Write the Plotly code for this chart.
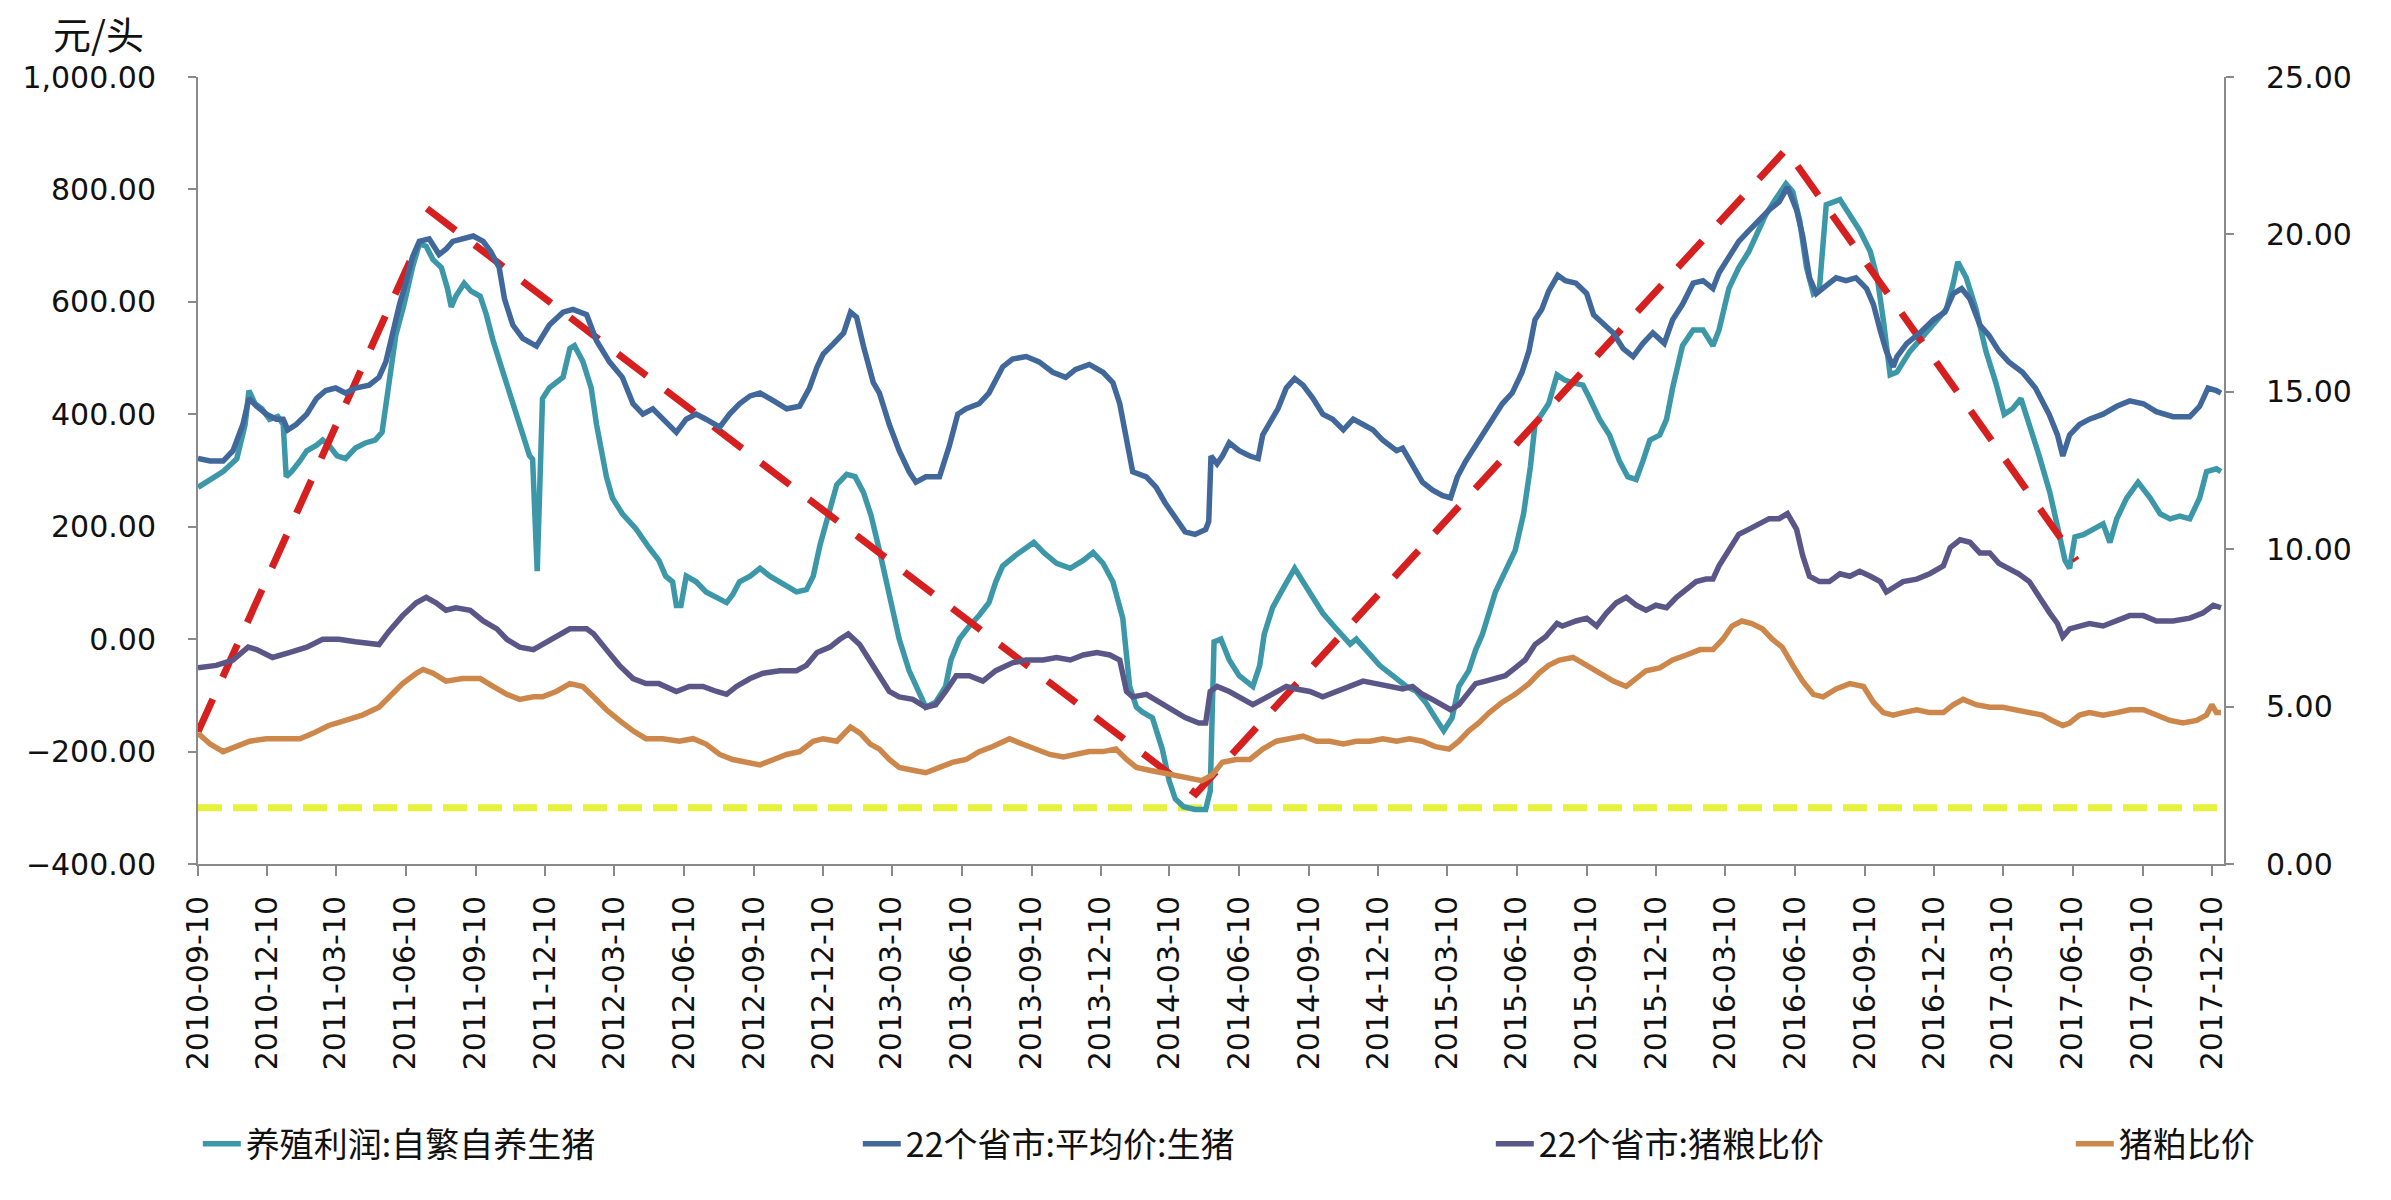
import plotly.graph_objects as go

# ---------------- data ----------------
profit_dates = ["2010-09-10","2010-09-26","2010-10-13","2010-10-31","2010-11-04","2010-11-11","2010-11-16","2010-11-24","2010-12-03","2010-12-13","2010-12-24","2010-12-31","2011-01-04","2011-01-11","2011-01-22","2011-01-31","2011-02-13","2011-02-21","2011-03-01","2011-03-12","2011-03-23","2011-04-05","2011-04-18","2011-05-01","2011-05-10","2011-05-19","2011-05-28","2011-06-08","2011-06-19","2011-06-28","2011-07-07","2011-07-16","2011-07-27","2011-08-04","2011-08-09","2011-08-15","2011-08-26","2011-09-04","2011-09-16","2011-09-24","2011-10-03","2011-10-16","2011-10-29","2011-11-11","2011-11-20","2011-11-24","2011-11-30","2011-12-07","2011-12-16","2012-01-03","2012-01-12","2012-01-18","2012-01-29","2012-02-09","2012-02-16","2012-02-29","2012-03-08","2012-03-21","2012-04-08","2012-04-25","2012-05-08","2012-05-17","2012-05-26","2012-05-31","2012-06-06","2012-06-13","2012-06-26","2012-07-09","2012-07-23","2012-08-05","2012-08-13","2012-08-22","2012-09-05","2012-09-18","2012-10-01","2012-10-19","2012-11-05","2012-11-18","2012-11-27","2012-12-06","2012-12-15","2012-12-28","2013-01-10","2013-01-21","2013-02-01","2013-02-11","2013-02-22","2013-03-07","2013-03-20","2013-04-02","2013-04-15","2013-04-24","2013-05-07","2013-05-20","2013-05-27","2013-06-07","2013-06-20","2013-07-03","2013-07-16","2013-07-25","2013-08-03","2013-08-20","2013-09-13","2013-09-26","2013-10-13","2013-10-31","2013-11-17","2013-11-30","2013-12-13","2013-12-26","2014-01-08","2014-01-17","2014-01-26","2014-02-03","2014-02-16","2014-03-01","2014-03-10","2014-03-18","2014-03-29","2014-04-13","2014-04-27","2014-05-03","2014-05-08","2014-05-17","2014-05-28","2014-06-10","2014-06-28","2014-07-07","2014-07-13","2014-07-24","2014-08-08","2014-08-22","2014-09-02","2014-09-15","2014-09-28","2014-10-16","2014-11-03","2014-11-11","2014-11-24","2014-12-12","2014-12-29","2015-01-16","2015-01-29","2015-02-10","2015-02-23","2015-03-06","2015-03-17","2015-03-26","2015-04-08","2015-04-17","2015-04-26","2015-05-05","2015-05-13","2015-05-26","2015-06-08","2015-06-19","2015-06-28","2015-07-04","2015-07-13","2015-07-22","2015-08-02","2015-08-12","2015-08-23","2015-09-05","2015-09-14","2015-09-27","2015-10-10","2015-10-23","2015-11-03","2015-11-14","2015-11-23","2015-12-02","2015-12-15","2015-12-24","2016-01-01","2016-01-14","2016-01-28","2016-02-10","2016-02-23","2016-03-02","2016-03-15","2016-03-28","2016-04-10","2016-04-19","2016-05-02","2016-05-15","2016-05-29","2016-06-07","2016-06-16","2016-06-25","2016-07-04","2016-07-12","2016-07-21","2016-08-08","2016-08-21","2016-09-03","2016-09-17","2016-09-26","2016-10-04","2016-10-13","2016-10-22","2016-11-08","2016-11-26","2016-12-13","2016-12-26","2017-01-04","2017-01-10","2017-01-21","2017-02-03","2017-02-16","2017-03-01","2017-03-12","2017-03-23","2017-04-03","2017-04-14","2017-04-27","2017-05-11","2017-05-22","2017-05-31","2017-06-06","2017-06-13","2017-06-24","2017-07-07","2017-07-20","2017-07-29","2017-08-07","2017-08-20","2017-09-04","2017-09-20","2017-10-03","2017-10-16","2017-10-29","2017-11-11","2017-11-24","2017-12-03","2017-12-16","2017-12-22"]
profit_values = [270,284,298,321,340,382,442,419,410,391,396,382,289,298,317,335,345,354,345,326,321,340,349,354,368,456,540,596,661,703,699,675,661,624,591,610,633,619,610,578,531,475,419,363,326,320,121,428,447,466,517,522,494,447,382,289,251,223,196,163,140,112,102,60,60,112,102,84,74,65,79,102,112,126,112,98,84,88,112,168,214,275,293,289,261,220,158,74,0,-56,-93,-121,-112,-84,-37,0,23,42,65,102,130,149,172,154,135,126,140,154,135,102,37,-84,-121,-130,-140,-196,-252,-284,-298,-303,-303,-270,-5,0,-37,-65,-84,-47,9,56,93,126,102,74,46,18,-9,0,-19,-47,-65,-84,-93,-112,-140,-163,-140,-84,-56,-19,9,46,84,121,158,223,307,382,400,419,470,461,456,452,428,391,363,317,289,284,317,354,363,391,447,522,550,550,522,550,624,661,689,717,754,782,810,796,745,661,615,624,773,782,754,727,689,643,568,470,475,512,540,568,587,633,671,643,587,512,456,400,410,428,382,326,261,196,140,126,182,186,196,205,172,214,251,279,251,223,214,219,214,251,298,303,298]

hog_dates = ["2010-09-10","2010-09-26","2010-10-13","2010-10-26","2010-11-08","2010-11-16","2010-11-26","2010-12-09","2010-12-22","2010-12-31","2011-01-06","2011-01-17","2011-01-31","2011-02-13","2011-02-25","2011-03-10","2011-03-23","2011-04-05","2011-04-23","2011-05-06","2011-05-15","2011-05-24","2011-06-02","2011-06-10","2011-06-19","2011-06-28","2011-07-11","2011-07-24","2011-08-02","2011-08-11","2011-08-24","2011-09-07","2011-09-20","2011-09-30","2011-10-11","2011-10-18","2011-10-29","2011-11-11","2011-11-29","2011-12-16","2012-01-03","2012-01-16","2012-02-03","2012-02-16","2012-03-04","2012-03-21","2012-04-04","2012-04-17","2012-04-30","2012-05-13","2012-05-31","2012-06-13","2012-06-26","2012-07-09","2012-07-27","2012-08-09","2012-08-22","2012-09-05","2012-09-18","2012-10-06","2012-10-23","2012-11-09","2012-11-22","2012-12-02","2012-12-10","2012-12-24","2013-01-06","2013-01-15","2013-01-23","2013-02-01","2013-02-14","2013-02-22","2013-03-07","2013-03-20","2013-04-02","2013-04-11","2013-04-24","2013-05-12","2013-05-25","2013-06-05","2013-06-16","2013-07-03","2013-07-16","2013-08-03","2013-08-16","2013-09-03","2013-09-20","2013-10-08","2013-10-25","2013-11-07","2013-11-25","2013-12-13","2013-12-26","2014-01-04","2014-01-15","2014-01-21","2014-02-08","2014-02-21","2014-03-05","2014-03-18","2014-03-31","2014-04-13","2014-04-27","2014-05-01","2014-05-04","2014-05-12","2014-05-19","2014-05-28","2014-06-10","2014-06-24","2014-07-05","2014-07-11","2014-07-20","2014-07-31","2014-08-11","2014-08-22","2014-09-02","2014-09-15","2014-09-28","2014-10-11","2014-10-25","2014-11-07","2014-11-20","2014-12-03","2014-12-16","2015-01-03","2015-01-11","2015-01-24","2015-02-06","2015-02-19","2015-03-04","2015-03-15","2015-03-24","2015-04-04","2015-04-17","2015-04-30","2015-05-13","2015-05-22","2015-06-04","2015-06-17","2015-06-26","2015-07-04","2015-07-13","2015-07-22","2015-08-03","2015-08-13","2015-08-27","2015-09-10","2015-09-19","2015-10-01","2015-10-15","2015-10-28","2015-11-10","2015-11-23","2015-12-06","2015-12-21","2016-01-01","2016-01-14","2016-01-28","2016-02-10","2016-02-23","2016-03-02","2016-03-15","2016-03-28","2016-04-10","2016-04-23","2016-05-07","2016-05-20","2016-05-31","2016-06-12","2016-06-20","2016-06-29","2016-07-08","2016-07-21","2016-08-03","2016-08-16","2016-08-29","2016-09-12","2016-09-21","2016-09-30","2016-10-08","2016-10-17","2016-10-22","2016-11-04","2016-11-21","2016-12-09","2016-12-24","2017-01-04","2017-01-15","2017-01-26","2017-02-08","2017-02-20","2017-03-05","2017-03-18","2017-04-05","2017-04-22","2017-05-10","2017-05-21","2017-05-28","2017-06-06","2017-06-19","2017-07-02","2017-07-20","2017-08-07","2017-08-24","2017-09-11","2017-09-28","2017-10-20","2017-11-11","2017-11-24","2017-12-05","2017-12-16","2017-12-22"]
hog_values = [12.88,12.80,12.80,13.13,13.96,14.79,14.54,14.29,14.13,14.13,13.79,13.96,14.29,14.79,15.04,15.12,14.96,15.12,15.21,15.46,15.95,16.95,17.78,18.45,19.28,19.78,19.86,19.36,19.53,19.78,19.86,19.95,19.78,19.45,18.95,17.95,17.12,16.70,16.45,17.12,17.53,17.62,17.45,16.62,15.95,15.46,14.62,14.29,14.46,14.13,13.71,14.13,14.29,14.13,13.88,14.29,14.62,14.87,14.96,14.71,14.46,14.54,15.12,15.79,16.20,16.54,16.87,17.53,17.37,16.45,15.29,14.96,13.96,13.13,12.46,12.13,12.30,12.30,13.29,14.29,14.46,14.62,14.96,15.79,16.04,16.12,15.95,15.62,15.46,15.71,15.87,15.62,15.29,14.62,13.29,12.46,12.30,11.96,11.46,10.97,10.55,10.47,10.63,10.88,12.96,12.71,12.96,13.38,13.13,12.96,12.88,13.63,14.04,14.46,15.12,15.42,15.21,14.79,14.29,14.13,13.79,14.13,13.96,13.79,13.46,13.13,13.21,12.63,12.13,11.88,11.71,11.63,12.30,12.80,13.29,13.79,14.29,14.62,14.96,15.62,16.29,17.29,17.62,18.20,18.70,18.53,18.45,18.12,17.45,17.20,16.87,16.37,16.12,16.54,16.87,16.54,17.29,17.78,18.45,18.53,18.28,18.78,19.28,19.78,20.11,20.44,20.78,21.03,21.50,20.78,19.95,18.62,18.12,18.37,18.62,18.53,18.62,18.28,17.78,16.95,16.29,15.79,16.12,16.54,16.87,17.29,17.53,18.12,18.28,17.95,17.12,16.79,16.29,15.95,15.62,15.12,14.29,13.63,12.96,13.63,13.96,14.13,14.29,14.54,14.71,14.62,14.37,14.21,14.21,14.54,15.12,15.04,14.96]

grain_dates = ["2010-09-10","2010-10-04","2010-10-26","2010-11-15","2010-11-26","2010-12-17","2011-01-09","2011-01-31","2011-02-21","2011-03-14","2011-04-05","2011-05-06","2011-05-19","2011-06-06","2011-06-24","2011-07-07","2011-07-20","2011-08-02","2011-08-15","2011-09-03","2011-09-20","2011-10-08","2011-10-21","2011-11-07","2011-11-25","2011-12-07","2011-12-25","2012-01-12","2012-02-03","2012-02-12","2012-02-29","2012-03-17","2012-04-04","2012-04-21","2012-05-08","2012-05-31","2012-06-17","2012-07-05","2012-07-23","2012-08-05","2012-08-18","2012-09-05","2012-09-22","2012-10-14","2012-11-05","2012-11-18","2012-12-02","2012-12-19","2013-01-01","2013-01-12","2013-01-27","2013-02-09","2013-02-23","2013-03-07","2013-03-20","2013-04-07","2013-04-24","2013-05-07","2013-05-20","2013-06-03","2013-06-20","2013-07-08","2013-07-25","2013-08-16","2013-09-03","2013-09-25","2013-10-13","2013-10-31","2013-11-17","2013-12-05","2013-12-22","2014-01-04","2014-01-13","2014-01-21","2014-02-08","2014-02-25","2014-03-14","2014-03-31","2014-04-18","2014-04-27","2014-05-03","2014-05-12","2014-05-28","2014-06-15","2014-06-28","2014-07-11","2014-07-29","2014-08-11","2014-08-24","2014-09-11","2014-09-28","2014-10-16","2014-11-03","2014-11-20","2014-12-07","2014-12-25","2015-01-11","2015-01-24","2015-02-06","2015-02-19","2015-03-04","2015-03-15","2015-03-26","2015-04-04","2015-04-17","2015-04-30","2015-05-13","2015-05-26","2015-06-08","2015-06-21","2015-07-04","2015-07-18","2015-08-02","2015-08-09","2015-08-27","2015-09-10","2015-09-23","2015-10-06","2015-10-19","2015-11-01","2015-11-14","2015-11-27","2015-12-10","2015-12-24","2016-01-06","2016-01-19","2016-02-01","2016-02-14","2016-02-23","2016-03-02","2016-03-15","2016-03-28","2016-04-10","2016-04-23","2016-05-07","2016-05-20","2016-05-31","2016-06-12","2016-06-20","2016-06-29","2016-07-12","2016-07-25","2016-08-08","2016-08-21","2016-09-03","2016-09-17","2016-09-30","2016-10-08","2016-10-20","2016-10-30","2016-11-17","2016-12-04","2016-12-22","2016-12-31","2017-01-13","2017-01-26","2017-02-08","2017-02-21","2017-03-05","2017-03-18","2017-03-31","2017-04-14","2017-04-27","2017-05-11","2017-05-21","2017-05-28","2017-06-06","2017-06-19","2017-07-02","2017-07-20","2017-08-07","2017-08-24","2017-09-11","2017-09-28","2017-10-20","2017-11-11","2017-11-28","2017-12-12","2017-12-22"]
grain_values = [6.23,6.31,6.48,6.89,6.81,6.56,6.72,6.89,7.14,7.14,7.06,6.97,7.39,7.89,8.30,8.47,8.30,8.06,8.14,8.06,7.72,7.47,7.14,6.89,6.81,6.97,7.22,7.47,7.47,7.31,6.81,6.31,5.89,5.73,5.73,5.48,5.64,5.64,5.48,5.39,5.64,5.89,6.06,6.14,6.14,6.31,6.72,6.89,7.14,7.31,6.97,6.48,5.98,5.48,5.31,5.23,4.98,5.06,5.48,5.98,5.98,5.81,6.14,6.39,6.48,6.48,6.56,6.48,6.64,6.72,6.64,6.48,5.48,5.31,5.39,5.14,4.90,4.65,4.48,4.48,5.48,5.64,5.48,5.23,5.06,5.23,5.48,5.64,5.56,5.48,5.31,5.48,5.64,5.81,5.73,5.64,5.56,5.64,5.39,5.23,5.06,4.90,5.06,5.31,5.73,5.81,5.89,5.98,6.23,6.48,6.97,7.22,7.64,7.56,7.72,7.81,7.56,7.97,8.30,8.47,8.22,8.06,8.22,8.14,8.47,8.72,8.97,9.05,9.05,9.47,9.97,10.47,10.63,10.80,10.97,10.97,11.13,10.63,9.80,9.14,8.97,8.97,9.22,9.14,9.30,9.14,8.97,8.64,8.80,8.97,9.05,9.22,9.47,10.05,10.30,10.22,9.88,9.88,9.55,9.39,9.22,8.97,8.47,7.97,7.64,7.22,7.47,7.56,7.64,7.56,7.72,7.89,7.89,7.72,7.72,7.81,7.97,8.22,8.14]

meal_dates = ["2010-09-10","2010-09-26","2010-10-13","2010-10-31","2010-11-17","2010-12-09","2010-12-31","2011-01-22","2011-02-08","2011-03-01","2011-03-23","2011-04-14","2011-05-06","2011-05-19","2011-06-06","2011-06-24","2011-07-03","2011-07-16","2011-08-02","2011-08-24","2011-09-16","2011-10-03","2011-10-21","2011-11-07","2011-11-25","2011-12-07","2011-12-25","2012-01-12","2012-01-29","2012-02-12","2012-02-29","2012-03-17","2012-04-04","2012-04-21","2012-05-13","2012-06-04","2012-06-22","2012-07-09","2012-07-27","2012-08-13","2012-08-31","2012-09-18","2012-10-06","2012-10-23","2012-11-09","2012-11-27","2012-12-10","2012-12-28","2013-01-15","2013-01-28","2013-02-10","2013-02-22","2013-03-07","2013-03-20","2013-04-07","2013-04-24","2013-05-12","2013-05-29","2013-06-16","2013-07-03","2013-07-21","2013-08-12","2013-08-29","2013-09-16","2013-10-04","2013-10-22","2013-11-08","2013-11-25","2013-12-13","2013-12-30","2014-01-13","2014-01-26","2014-02-12","2014-03-01","2014-03-18","2014-04-05","2014-04-22","2014-05-05","2014-05-14","2014-05-19","2014-06-06","2014-06-24","2014-07-11","2014-07-29","2014-08-15","2014-09-02","2014-09-20","2014-10-07","2014-10-25","2014-11-11","2014-11-29","2014-12-16","2015-01-03","2015-01-20","2015-02-06","2015-02-23","2015-03-13","2015-03-26","2015-04-08","2015-04-21","2015-05-05","2015-05-22","2015-06-08","2015-06-26","2015-07-09","2015-07-22","2015-08-05","2015-08-23","2015-09-10","2015-09-27","2015-10-15","2015-11-01","2015-11-14","2015-11-27","2015-12-15","2016-01-01","2016-01-19","2016-02-06","2016-02-23","2016-03-07","2016-03-19","2016-04-01","2016-04-14","2016-04-28","2016-05-11","2016-05-24","2016-06-07","2016-06-20","2016-07-04","2016-07-17","2016-08-03","2016-08-21","2016-09-08","2016-09-21","2016-10-04","2016-10-17","2016-10-30","2016-11-17","2016-12-04","2016-12-22","2017-01-04","2017-01-17","2017-02-03","2017-02-21","2017-03-10","2017-03-27","2017-04-14","2017-05-01","2017-05-14","2017-05-28","2017-06-06","2017-06-19","2017-07-02","2017-07-20","2017-08-07","2017-08-24","2017-09-11","2017-09-28","2017-10-16","2017-11-02","2017-11-20","2017-12-03","2017-12-10","2017-12-16","2017-12-22"]
meal_values = [4.15,3.81,3.57,3.73,3.90,3.98,3.98,3.98,4.15,4.40,4.56,4.73,4.98,5.31,5.73,6.06,6.18,6.06,5.81,5.89,5.89,5.64,5.39,5.23,5.31,5.31,5.48,5.73,5.64,5.31,4.90,4.56,4.23,3.98,3.98,3.90,3.98,3.81,3.48,3.32,3.23,3.15,3.32,3.48,3.57,3.90,3.98,3.90,4.35,4.15,3.81,3.65,3.32,3.07,2.98,2.90,3.07,3.23,3.32,3.57,3.73,3.98,3.81,3.65,3.48,3.40,3.48,3.57,3.57,3.65,3.32,3.07,2.98,2.90,2.82,2.70,2.65,2.82,3.10,3.23,3.32,3.32,3.65,3.90,3.98,4.06,3.90,3.90,3.81,3.90,3.90,3.98,3.90,3.98,3.90,3.73,3.65,3.90,4.23,4.48,4.81,5.14,5.39,5.73,6.06,6.31,6.48,6.56,6.31,6.06,5.81,5.64,5.89,6.14,6.23,6.48,6.64,6.81,6.81,7.14,7.56,7.72,7.64,7.47,7.14,6.89,6.31,5.81,5.39,5.31,5.56,5.73,5.64,5.14,4.81,4.73,4.81,4.90,4.81,4.81,5.06,5.23,5.06,4.98,4.98,4.90,4.81,4.73,4.56,4.40,4.48,4.73,4.81,4.73,4.81,4.90,4.90,4.73,4.56,4.48,4.56,4.73,5.06,4.81,4.81]

# hand-drawn red trend lines (left axis, 元/头)
trend_dates = ["2010-09-10", "2011-06-26", None, "2011-07-08", "2014-04-14", "2016-05-29", "2017-06-15"]
trend_values = [-165, 703, None, 766, -275, 871, 140]

# yellow reference level (left axis)
ref_dates = ["2010-09-10", "2017-12-26"]
ref_values = [-300, -300]

tick_labels = ["2010-09-10","2010-12-10","2011-03-10","2011-06-10","2011-09-10","2011-12-10",
               "2012-03-10","2012-06-10","2012-09-10","2012-12-10","2013-03-10","2013-06-10",
               "2013-09-10","2013-12-10","2014-03-10","2014-06-10","2014-09-10","2014-12-10",
               "2015-03-10","2015-06-10","2015-09-10","2015-12-10","2016-03-10","2016-06-10",
               "2016-09-10","2016-12-10","2017-03-10","2017-06-10","2017-09-10","2017-12-10"]

series_names = ["养殖利润:自繁自养生猪", "22个省市:平均价:生猪", "22个省市:猪粮比价", "猪粕比价"]

# ---------------- figure ----------------
AXIS_GREY = "#8a8a8a"
TICK_FONT = dict(family="DejaVu Sans, Noto Sans CJK SC", size=30, color="#111111")
CJK = "Noto Sans CJK SC, DejaVu Sans"
LW = 5.5

fig = go.Figure()

fig.add_trace(go.Scatter(x=ref_dates, y=ref_values, mode="lines", yaxis="y",
                         line=dict(color="#e6f23c", width=7, dash="24px,11px"),
                         showlegend=False, hoverinfo="skip"))

fig.add_trace(go.Scatter(x=profit_dates, y=profit_values, mode="lines", name=series_names[0],
                         yaxis="y", line=dict(color="#3c98a8", width=LW), legendwidth=607))
fig.add_trace(go.Scatter(x=hog_dates, y=hog_values, mode="lines", name=series_names[1],
                         yaxis="y2", line=dict(color="#41689b", width=LW), legendwidth=580))
fig.add_trace(go.Scatter(x=grain_dates, y=grain_values, mode="lines", name=series_names[2],
                         yaxis="y2", line=dict(color="#5b5688", width=LW), legendwidth=527))
fig.add_trace(go.Scatter(x=meal_dates, y=meal_values, mode="lines", name=series_names[3],
                         yaxis="y2", line=dict(color="#cd874b", width=LW), legendwidth=145))

fig.add_trace(go.Scatter(x=trend_dates, y=trend_values, mode="lines", yaxis="y",
                         line=dict(color="#d61f1f", width=7, dash="36px,24px"),
                         connectgaps=False, showlegend=False, hoverinfo="skip"))

fig.update_layout(
    width=2391, height=1200,
    margin=dict(l=198, r=167, t=77, b=336, pad=0),
    paper_bgcolor="white", plot_bgcolor="white",
    xaxis=dict(type="date", range=["2010-09-10", "2017-12-26"],
               tickvals=tick_labels, ticktext=tick_labels, tickangle=-90,
               showline=True, linecolor=AXIS_GREY, linewidth=2,
               ticks="outside", ticklen=10, tickwidth=2, tickcolor=AXIS_GREY,
               showgrid=False, zeroline=False, tickfont=TICK_FONT, ticklabelstandoff=8),
    yaxis=dict(range=[-400, 1000], tickvals=[-400, -200, 0, 200, 400, 600, 800, 1000],
               tickformat=",.2f", showline=True, linecolor=AXIS_GREY, linewidth=2,
               ticks="outside", ticklen=8, tickwidth=2, tickcolor=AXIS_GREY,
               showgrid=False, zeroline=False, tickfont=TICK_FONT, ticklabelstandoff=26),
    yaxis2=dict(range=[0, 25], tickvals=[0, 5, 10, 15, 20, 25], tickformat=".2f",
                overlaying="y", side="right", showline=True, linecolor=AXIS_GREY, linewidth=2,
                ticks="outside", ticklen=8, tickwidth=2, tickcolor=AXIS_GREY,
                showgrid=False, zeroline=False, tickfont=TICK_FONT, ticklabelstandoff=26),
    legend=dict(orientation="h", x=-0.0001, xanchor="left", y=-0.356, yanchor="middle",
                itemwidth=38,
                font=dict(family=CJK, size=34, color="#111111"),
                bgcolor="rgba(0,0,0,0)", tracegroupgap=0),
    annotations=[dict(text="元/头", xref="paper", yref="paper", x=-0.049, y=1.057,
                      xanchor="center", yanchor="middle", showarrow=False,
                      font=dict(family=CJK, size=38, color="#111111"))],
    showlegend=True,
)

fig.write_html("out.html")
